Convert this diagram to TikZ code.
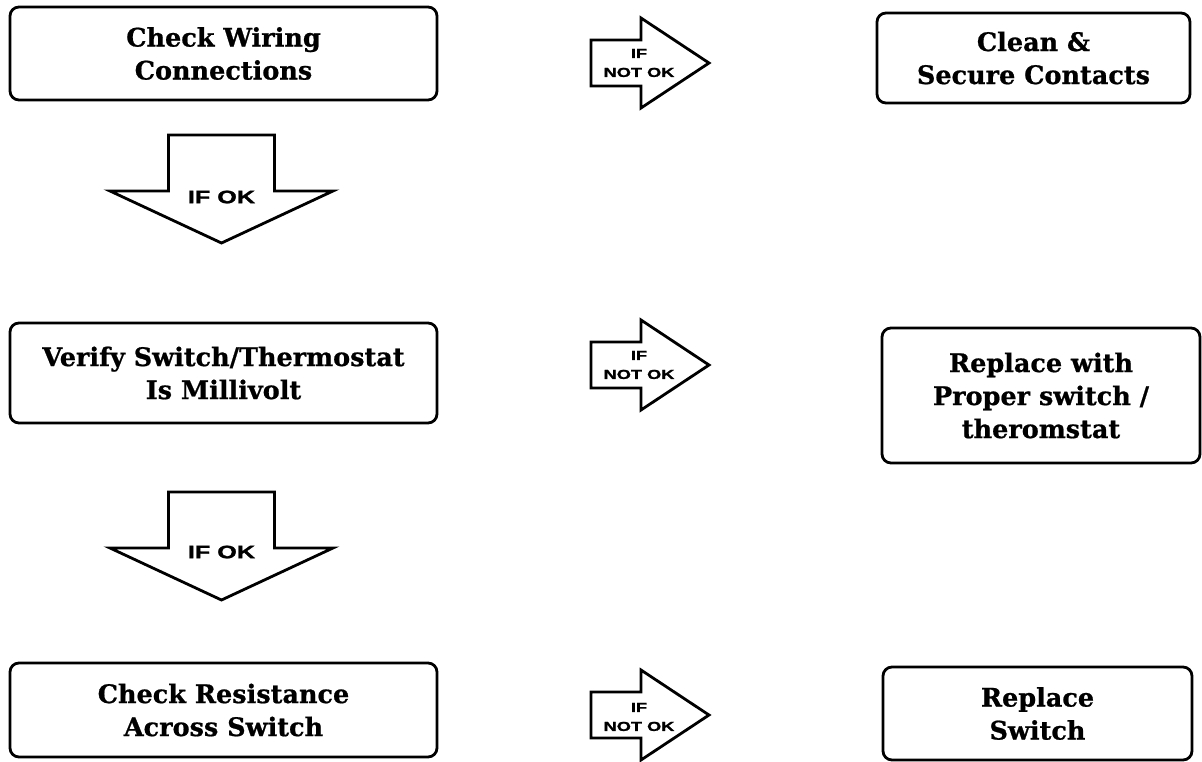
\documentclass[tikz,border=0pt]{standalone}
\usepackage{fontspec}
\newfontfamily\lblfont[FakeStretch=1.4,FakeBold=1.5]{Liberation Sans}
\newfontfamily\boxfont[FakeBold=0.8]{DejaVu Serif}
\begin{document}
\begin{tikzpicture}[x=1pt,y=-1pt,
  box/.style={draw, line width=2.8pt, rounded corners=9pt, align=center,
    font=\boxfont\bfseries\fontsize{25.5}{33}\selectfont, inner sep=0pt},
  blockarrow/.style={draw, line width=2.8pt, line join=miter, fill=white},
  oklabel/.style={font=\lblfont\bfseries\fontsize{18}{20}\selectfont, inner sep=0pt},
  nolabel/.style={font=\lblfont\bfseries\fontsize{13}{19}\selectfont, align=center, inner sep=0pt}]
\useasboundingbox (0,0) rectangle (1202,761);
% left column boxes
\node[box, minimum width=427pt, minimum height=93pt] (b1) at (223.5,53.5) {Check Wiring\\Connections};
\node[box, minimum width=427pt, minimum height=100pt] (b2) at (223.5,373) {Verify Switch/Thermostat\\Is Millivolt};
\node[box, minimum width=427pt, minimum height=94pt] (b3) at (223.5,710) {Check Resistance\\Across Switch};
% right column boxes
\node[box, minimum width=313pt, minimum height=90pt] (c1) at (1033.5,58) {Clean \&\\Secure Contacts};
\node[box, minimum width=318pt, minimum height=135pt] (c2) at (1041,395.5) {Replace with\\Proper switch /\\theromstat};
\node[box, minimum width=309pt, minimum height=93pt] (c3) at (1037.5,713.5) {Replace\\Switch};
% down block arrows
\draw[blockarrow] (168.5,135) -- (274.5,135) -- (274.5,191) -- (333,191) -- (221.5,243) -- (110,191) -- (168.5,191) -- cycle;
\node[oklabel] (ok1) at (221.5,197) {IF OK};
\draw[blockarrow] (168.5,492) -- (274.5,492) -- (274.5,548) -- (333,548) -- (221.5,600) -- (110,548) -- (168.5,548) -- cycle;
\node[oklabel] (ok2) at (221.5,552) {IF OK};
% right block arrows
\draw[blockarrow] (591,40) -- (641,40) -- (641,18) -- (709,63) -- (641,108) -- (641,86) -- (591,86) -- cycle;
\node[nolabel] (n1) at (639,63) {IF\\NOT OK};
\draw[blockarrow] (591,342) -- (641,342) -- (641,320) -- (709,365) -- (641,410) -- (641,388) -- (591,388) -- cycle;
\node[nolabel] (n2) at (639,365) {IF\\NOT OK};
\draw[blockarrow] (591,692) -- (641,692) -- (641,670) -- (709,715) -- (641,760) -- (641,738) -- (591,738) -- cycle;
\node[nolabel] (n3) at (639,717) {IF\\NOT OK};
\end{tikzpicture}
\end{document}
